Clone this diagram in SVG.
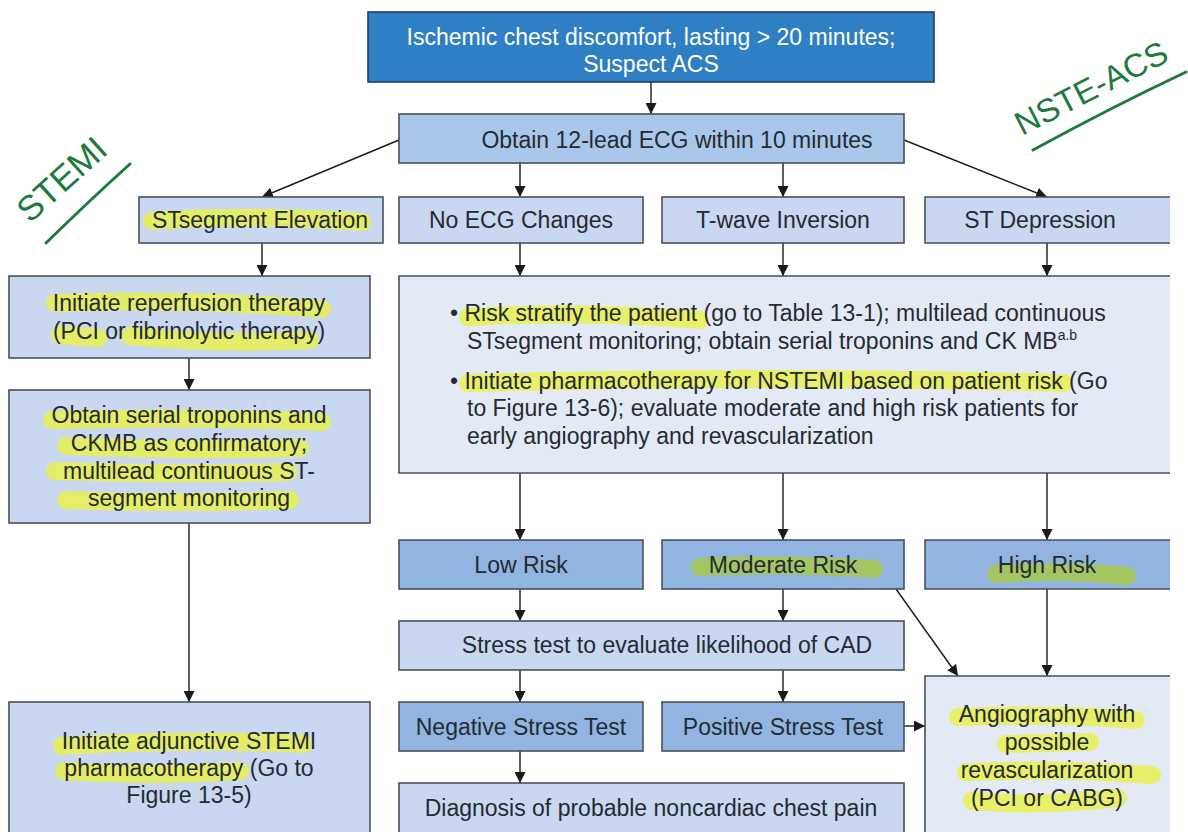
<svg xmlns="http://www.w3.org/2000/svg" width="1188" height="832" viewBox="0 0 1188 832">
<defs>
<marker id="ah" viewBox="0 0 10 10" refX="10" refY="5" markerWidth="11" markerHeight="11" markerUnits="userSpaceOnUse" orient="auto">
<path d="M0,0 L10,5 L0,10 z" fill="#1a1a1a"/>
</marker>
<style>
text{font-family:"Liberation Sans",Arial,sans-serif;font-size:23px;fill:#262a33}
.c{text-anchor:middle}
.box{stroke:#4a4f5a;stroke-width:1.6}
.edge{stroke:#4a4f5a;stroke-width:1.6;fill:none}
.dark{fill:#2f7fc4;stroke:#1d3f66;stroke-width:1.6}
.mid1{fill:#a9c7ea}
.lt{fill:#c9d8f0}
.md{fill:#91b4e0}
.vl{fill:#e3eaf6}
.con line{stroke:#1a1a1a;stroke-width:1.4;fill:none;marker-end:url(#ah)}
.hl{stroke:#e9f150;stroke-width:18;stroke-linecap:round;stroke-linejoin:round;fill:none;opacity:0.85}
.hg{stroke:#a3c564;stroke-width:18;stroke-linecap:round;fill:none}
.ink{fill:#1d7a3c;font-family:"Liberation Sans",sans-serif;font-size:35px}
.inkl{stroke:#1d7a3c;stroke-width:3;stroke-linecap:round;fill:none}
</style>
</defs>
<rect width="1188" height="832" fill="#ffffff"/>

<g id="connectors" class="con">
<line x1="651" y1="82" x2="651" y2="114"/>
<line x1="399" y1="140" x2="262" y2="197"/>
<line x1="904" y1="140" x2="1047" y2="197"/>
<line x1="520" y1="163" x2="520" y2="197"/>
<line x1="783" y1="163" x2="783" y2="197"/>
<line x1="262" y1="243" x2="262" y2="276"/>
<line x1="520" y1="243" x2="520" y2="276"/>
<line x1="783" y1="243" x2="783" y2="276"/>
<line x1="1047" y1="243" x2="1047" y2="276"/>
<line x1="189" y1="358" x2="189" y2="390"/>
<line x1="189" y1="523" x2="189" y2="702"/>
<line x1="520" y1="473" x2="520" y2="540"/>
<line x1="783" y1="473" x2="783" y2="540"/>
<line x1="1047" y1="473" x2="1047" y2="540"/>
<line x1="520" y1="589" x2="520" y2="621"/>
<line x1="783" y1="589" x2="783" y2="621"/>
<line x1="896" y1="589" x2="958" y2="676"/>
<line x1="1047" y1="589" x2="1047" y2="676"/>
<line x1="520" y1="670" x2="520" y2="702"/>
<line x1="783" y1="670" x2="783" y2="702"/>
<line x1="904" y1="726" x2="925" y2="726"/>
<line x1="520" y1="751" x2="520" y2="783"/>
</g>

<g id="n-start"><rect class="dark" x="368" y="12" width="566" height="70"/>
<text class="c" x="651" y="45" style="fill:#ffffff">Ischemic chest discomfort, lasting &gt; 20 minutes;</text>
<text class="c" x="651" y="72" style="fill:#ffffff">Suspect ACS</text></g>

<g id="n-ecg"><rect class="box mid1" x="399" y="114" width="505" height="49"/>
<text class="c" x="677" y="148">Obtain 12-lead ECG within 10 minutes</text></g>

<g id="n-ste"><rect class="box lt" x="139" y="197" width="244" height="46"/>
<path class="hl" d="M152,221 Q250,214 362,222"/>
<text class="c" x="260" y="228">STsegment Elevation</text></g>
<g id="n-noecg"><rect class="box lt" x="399" y="197" width="244" height="46"/>
<text class="c" x="521" y="228">No ECG Changes</text></g>
<g id="n-twave"><rect class="box lt" x="662" y="197" width="242" height="46"/>
<text class="c" x="783" y="228">T-wave Inversion</text></g>
<g id="n-std"><rect class="lt" x="925" y="197" width="245" height="46"/>
<path class="edge" d="M1170,197 H925 V243 H1170"/>
<text class="c" x="1040" y="228">ST Depression</text></g>

<g id="n-reperf"><rect class="box lt" x="9" y="276" width="361" height="82"/>
<path class="hl" d="M55,303 Q190,298 322,309"/>
<path class="hl" d="M60,335 L98,338"/>
<path class="hl" d="M130,336 Q220,345 310,340"/>
<text class="c" x="189" y="311">Initiate reperfusion therapy</text>
<text class="c" x="189" y="339">(PCI or fibrinolytic therapy)</text></g>

<g id="n-serial"><rect class="box lt" x="9" y="390" width="361" height="133"/>
<path class="hl" d="M52,420 Q190,416 322,422"/>
<path class="hl" d="M66,446 Q185,451 300,448"/>
<path class="hl" d="M55,471 Q170,475 288,472"/>
<path class="hl" d="M66,500 Q180,504 290,500"/>
<text class="c" x="189" y="423">Obtain serial troponins and</text>
<text class="c" x="189" y="451">CKMB as confirmatory;</text>
<text class="c" x="189" y="479">multilead continuous ST-</text>
<text class="c" x="189" y="506">segment monitoring</text></g>

<g id="n-adjunct"><rect class="box lt" x="9" y="702" width="361" height="140"/>
<path class="hl" d="M62,746 Q190,738 304,744"/>
<path class="hl" d="M64,771 Q150,777 240,771"/>
<text class="c" x="189" y="749">Initiate adjunctive STEMI</text>
<text class="c" x="189" y="776">pharmacotherapy (Go to</text>
<text class="c" x="189" y="803">Figure 13-5)</text></g>

<g id="n-risk"><rect class="vl" x="399" y="276" width="771" height="197"/>
<path class="edge" d="M1170,276 H399 V473 H1170"/>
<path class="hl" d="M468,317 Q590,311 700,320"/>
<path class="hl" d="M468,383 Q760,375 1064,383"/>
<text x="450" y="321">• Risk stratify the patient (go to Table 13-1); multilead continuous</text>
<text x="467" y="349">STsegment monitoring; obtain serial troponins and CK MB<tspan dy="-9" font-size="14">a.b</tspan></text>
<text x="450" y="389">• Initiate pharmacotherapy for NSTEMI based on patient risk (Go</text>
<text x="467" y="416">to Figure 13-6); evaluate moderate and high risk patients for</text>
<text x="467" y="444">early angiography and revascularization</text></g>

<g id="n-low"><rect class="box md" x="399" y="540" width="244" height="49"/>
<text class="c" x="521" y="573">Low Risk</text></g>
<g id="n-mod"><rect class="box md" x="662" y="540" width="242" height="49"/>
<path class="hg" d="M700,567 Q790,563 874,569"/>
<text class="c" x="783" y="573">Moderate Risk</text></g>
<g id="n-high"><rect class="md" x="925" y="540" width="245" height="49"/>
<path class="edge" d="M1170,540 H925 V589 H1170"/>
<path class="hg" d="M996,574 Q1060,569 1127,576"/>
<text class="c" x="1047" y="573">High Risk</text></g>

<g id="n-stress"><rect class="box lt" x="399" y="621" width="505" height="49"/>
<text class="c" x="667" y="653">Stress test to evaluate likelihood of CAD</text></g>

<g id="n-neg"><rect class="box md" x="399" y="702" width="244" height="49"/>
<text class="c" x="521" y="735">Negative Stress Test</text></g>
<g id="n-pos"><rect class="box md" x="662" y="702" width="242" height="49"/>
<text class="c" x="783" y="735">Positive Stress Test</text></g>

<g id="n-angio"><rect class="vl" x="925" y="676" width="245" height="166"/>
<path class="edge" d="M1170,676 H925 V842"/>
<path class="hl" d="M958,717 Q1050,713 1136,720"/>
<path class="hl" d="M1006,744 L1090,742"/>
<path class="hl" d="M966,772 Q1060,768 1152,775"/>
<path class="hl" d="M972,801 Q1040,807 1118,798"/>
<text class="c" x="1047" y="722">Angiography with</text>
<text class="c" x="1047" y="750">possible</text>
<text class="c" x="1047" y="778">revascularization</text>
<text class="c" x="1047" y="806">(PCI or CABG)</text></g>

<g id="n-diag"><rect class="box lt" x="399" y="783" width="505" height="59"/>
<text class="c" x="651" y="816">Diagnosis of probable noncardiac chest pain</text></g>

<g id="annotations">
<text class="ink" transform="translate(30,224) rotate(-42)">STEMI</text>
<path class="inkl" d="M46,243 Q90,200 130,164"/>
<text class="ink" transform="translate(1022,136) rotate(-27)" style="font-size:33px">NSTE-ACS</text>
<path class="inkl" d="M1033,150 Q1110,108 1186,72"/>
</g>
</svg>
